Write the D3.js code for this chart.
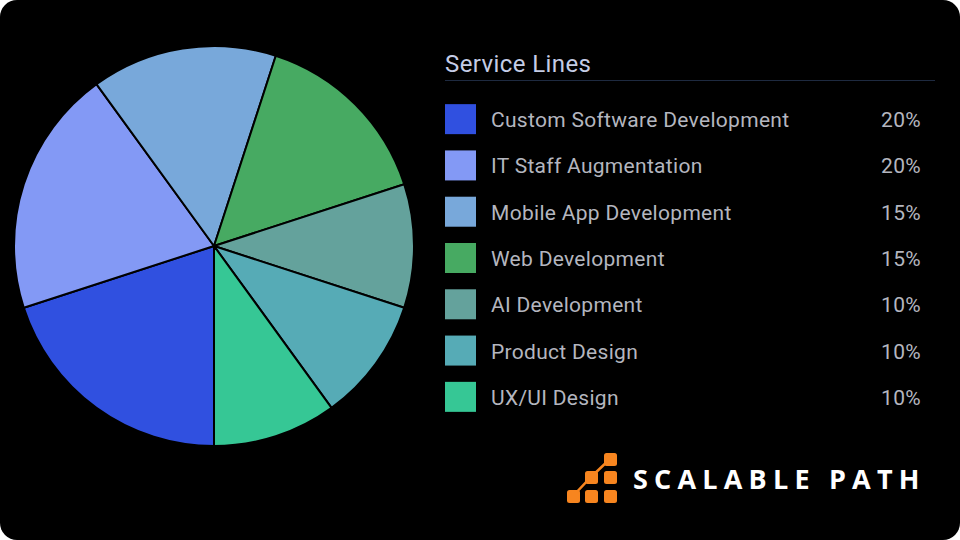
<!DOCTYPE html>
<html>
<head>
<meta charset="utf-8">
<script src="https://cdn.jsdelivr.net/npm/d3@7"></script>
<style>
html,body{margin:0;padding:0;background:#ffffff;}
svg{display:block;}
</style>
</head>
<body>
<svg id="chart" width="960" height="540"></svg>
<script>
const categories = ["Custom Software Development","IT Staff Augmentation","Mobile App Development","Web Development","AI Development","Product Design","UX/UI Design"];
const values = [20,20,15,15,10,10,10];
const colors = ["#3050e0","#8399f5","#78a8da","#47aa62","#64a29c","#56abb6","#36c795"];
const percentLabels = ["20%","20%","15%","15%","10%","10%","10%"];
const title = "Service Lines";
const brand = "SCALABLE PATH";

const svg = d3.select("#chart");
svg.append("rect").attr("x",0).attr("y",0).attr("width",960).attr("height",540).attr("rx",17).attr("ry",17).attr("fill","#000");

const data = categories.map((c,i)=>({name:c,value:values[i],color:colors[i],label:percentLabels[i]}));

const pie = d3.pie().value(d=>d.value).sort(null).startAngle(Math.PI).endAngle(3*Math.PI);
const arc = d3.arc().innerRadius(0).outerRadius(200);
const g = svg.append("g").attr("transform","translate(214,246)");
g.selectAll("path").data(pie(data)).join("path")
  .attr("d",arc).attr("fill",d=>d.data.color)
  .attr("stroke","#000").attr("stroke-width",2).attr("stroke-linejoin","round");

svg.append("text").attr("x",445).attr("y",71.5).text(title)
  .attr("font-family","Roboto").attr("font-size",24).attr("letter-spacing",0.4).attr("fill","#c5cde6");
svg.append("line").attr("x1",445).attr("x2",935).attr("y1",80.5).attr("y2",80.5)
  .attr("stroke","#1e2a40").attr("stroke-width",1.2);

const y = d3.scaleBand().domain(categories).range([96,420]).paddingInner(0);
const lg = svg.append("g");
const rows = lg.selectAll("g").data(data).join("g")
  .attr("transform",d=>`translate(0,${y(d.name)+y.bandwidth()/2})`);
rows.append("rect").attr("x",445).attr("y",-15).attr("width",31).attr("height",30).attr("fill",d=>d.color);
rows.append("text").attr("x",491).attr("y",8).text(d=>d.name)
  .attr("font-family","Roboto").attr("font-size",21).attr("letter-spacing",0.3).attr("fill","#b4b6bf");
rows.append("text").attr("x",921).attr("y",8).attr("text-anchor","end").text(d=>d.label)
  .attr("font-family","Roboto").attr("font-size",21).attr("letter-spacing",0.3).attr("fill","#b4b6bf");

// logo
const logo = svg.append("g");
const orange = "#f7851f";
const sq = [[604,453],[585,471],[604,471],[567,490],[585,490],[604,490]];
logo.append("path").attr("d","M573,496 L591,477 L610,459").attr("stroke",orange).attr("stroke-width",2.5).attr("fill","none");
logo.selectAll("rect").data(sq).join("rect")
  .attr("x",d=>d[0]).attr("y",d=>d[1]).attr("width",13).attr("height",13).attr("rx",2.5).attr("fill",orange);
logo.append("text").attr("x",633).attr("y",489).text(brand)
  .attr("font-family","'Open Sans', sans-serif").attr("font-weight",700).attr("font-size",27)
  .attr("letter-spacing",6.2).attr("fill","#ffffff");
</script>
</body>
</html>
